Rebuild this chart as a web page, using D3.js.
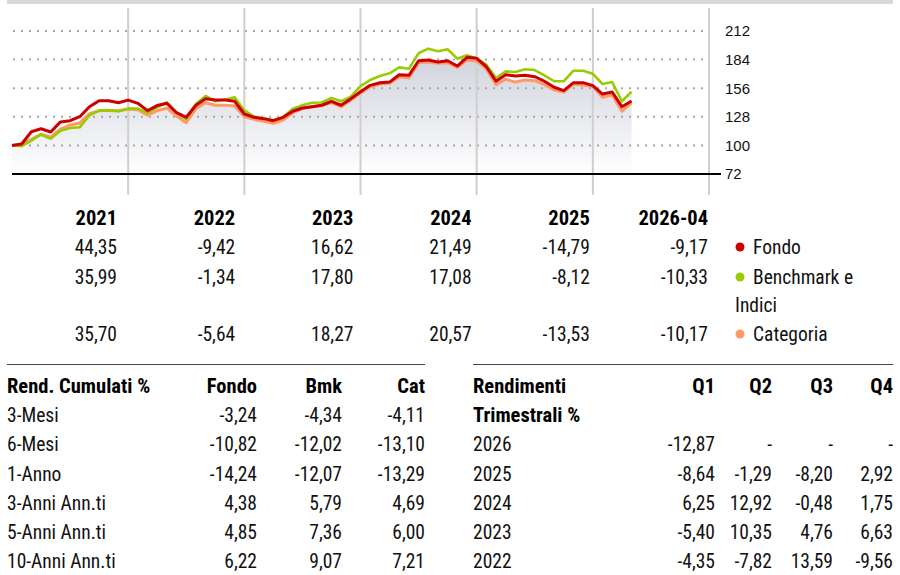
<!DOCTYPE html>
<html><head><meta charset="utf-8">
<script src="https://cdn.jsdelivr.net/npm/d3@7"></script>
<style>
body{margin:0;background:#fff}
svg{display:block}
.t{font-family:"Liberation Sans Narrow","Roboto Condensed","Arial Narrow","DejaVu Sans Condensed",sans-serif;font-size:19.5px;fill:#111}
.b{font-weight:bold;fill:#000;font-size:20.5px}
.ax{font-family:"Liberation Sans",Arial,sans-serif;font-size:15px;fill:#111}
</style></head><body>
<svg id="c" width="900" height="575"></svg>
<script>
// ---------- data ----------
const fondo = [100,101.4,113.4,116.3,113.1,123,124.2,128.1,137.9,143.8,143.8,141.8,144.35,
  141.2,134,139,141.2,132,127.5,139.3,145.7,144.5,144.5,143.2,130.75,
  127.5,126.2,124.2,127.5,133.4,136.6,137.9,139.3,143.2,139.3,145.7,152.5,
  158.8,161.4,162,169.2,168.6,182.9,183.6,181.6,182.9,177.7,186.2,185.3,
  177,162.8,169.2,167.9,168.6,167.3,162.8,156.9,153.6,161.4,161.4,158.5,
  150.3,152.3,137.9,143.4];
const benchmark = [100,99.3,104.6,110.5,106.6,114.4,117,117.7,129.5,134,134,133.4,135.99,
  136,132,137.3,142,132,125.5,140.5,148.4,143.2,145,147,134.2,
  128.1,126.2,124.9,127.5,136,139.3,141.8,142,146.4,143.2,147.7,158.1,
  164,168,170.6,176.4,175.1,190.2,194.7,192.1,194.1,184.9,188.2,185.1,
  179,166,172.5,171.9,174.5,173.8,168.6,162.8,162.8,173.1,173.1,170.1,
  160.1,162,143.2,152.5];
const categoria = [100,101,106,111,108,116,120,122,131,134,134.5,134,135.7,
  135,129.5,134,136.6,128.8,122.2,136,141.8,139.3,139.3,138.6,128.05,
  125.5,123.6,121.6,124.9,132,136,137.9,139.3,141.8,137.9,144.5,151.4,
  157.5,160.1,160.8,167.3,166,181,181.6,180.3,181,176.4,183.6,182.5,
  175.1,159.4,164.7,162,164,163.4,159.4,154.2,152.3,160.1,158.8,157.8,
  147.1,149.6,133.4,141.8];
const yTicks = [72,100,128,156,184,212];
const yearEnds = ["2021","2022","2023","2024","2025","2026"];

const annualHeaders = ["2021","2022","2023","2024","2025","2026-04"];
const annualFondo = ["44,35","-9,42","16,62","21,49","-14,79","-9,17"];
const annualBmk = ["35,99","-1,34","17,80","17,08","-8,12","-10,33"];
const annualCat = ["35,70","-5,64","18,27","20,57","-13,53","-10,17"];
const legendLabels = ["Fondo","Benchmark e","Categoria"];

const cumHeaders = ["Rend. Cumulati %","Fondo","Bmk","Cat"];
const cumRows = [
  ["3-Mesi","-3,24","-4,34","-4,11"],
  ["6-Mesi","-10,82","-12,02","-13,10"],
  ["1-Anno","-14,24","-12,07","-13,29"],
  ["3-Anni Ann.ti","4,38","5,79","4,69"],
  ["5-Anni Ann.ti","4,85","7,36","6,00"],
  ["10-Anni Ann.ti","6,22","9,07","7,21"]
];
const qHeaders = ["Q1","Q2","Q3","Q4"];
const qRows = [
  ["2026","-12,87","-","-","-"],
  ["2025","-8,64","-1,29","-8,20","2,92"],
  ["2024","6,25","12,92","-0,48","1,75"],
  ["2023","-5,40","10,35","4,76","6,63"],
  ["2022","-4,35","-7,82","13,59","-9,56"]
];

const colors = {fondo:"#cc0000", bmk:"#99cc00", cat:"#ff9966"};

// ---------- chart ----------
const svg = d3.select("#c");
svg.append("rect").attr("x",7).attr("y",0).attr("width",886).attr("height",4).attr("fill","#d9d9d9");

const x = d3.scaleLinear().domain([0,72]).range([12,709]);
const y = d3.scaleLinear().domain([72,212]).range([174,31]);

const defs = svg.append("defs");
const grad = defs.append("linearGradient").attr("id","g").attr("gradientUnits","userSpaceOnUse")
  .attr("x1",0).attr("x2",0).attr("y1",40).attr("y2",174);
grad.append("stop").attr("offset",0).attr("stop-color","#cacdd8");
grad.append("stop").attr("offset",1).attr("stop-color","#ffffff");

// area
svg.append("path").datum(categoria)
  .attr("d", d3.area().x((d,i)=>x(i)).y0(y(72)).y1(d=>y(d)))
  .attr("fill","url(#g)");

// horizontal dotted grid
svg.append("g").selectAll("line").data(yTicks.filter(v=>v>72)).join("line")
  .attr("x1",13).attr("x2",706).attr("y1",d=>y(d)).attr("y2",d=>y(d))
  .attr("stroke","#a6a6a6").attr("stroke-width",2).attr("stroke-dasharray","2,6");

// vertical year lines
svg.append("g").selectAll("line").data(yearEnds).join("line")
  .attr("x1",(d,i)=>x((i+1)*12)).attr("x2",(d,i)=>x((i+1)*12))
  .attr("y1",8).attr("y2",195).attr("stroke","#cfcfcf").attr("stroke-width",2);

// baseline
svg.append("line").attr("x1",12).attr("x2",721).attr("y1",y(72)).attr("y2",y(72))
  .attr("stroke","#000").attr("stroke-width",2.2);

// y axis labels
const yAxis = d3.axisRight(y).tickValues(yTicks).tickSize(0).tickPadding(0);
const gy = svg.append("g").attr("transform","translate(725,0)").call(yAxis);
gy.select(".domain").remove();
gy.selectAll("text").attr("class","ax").attr("font-family",null).attr("font-size",null).attr("fill",null);

// lines
const line = d3.line().x((d,i)=>x(i)).y(d=>y(d));
[[categoria,colors.cat,3],[benchmark,colors.bmk,2.6],[fondo,colors.fondo,3]].forEach(([s,c,w])=>{
  svg.append("path").datum(s).attr("d",line).attr("fill","none")
    .attr("stroke",c).attr("stroke-width",w).attr("stroke-linejoin","round");
});

// ---------- annual table ----------
const colX = d3.scaleLinear().domain([0,5]).range([117,708]);
const at = svg.append("g");
at.selectAll(".h").data(annualHeaders).join("text").attr("class","t b")
  .attr("x",(d,i)=>colX(i)).attr("y",225).attr("text-anchor","end").text(d=>d);
[[annualFondo,254],[annualBmk,284],[annualCat,341]].forEach(([arr,yy])=>{
  at.append("g").selectAll("text").data(arr).join("text").attr("class","t")
    .attr("x",(d,i)=>colX(i)).attr("y",yy).attr("text-anchor","end").text(d=>d);
});
// legend
const legY = [254,284,341];
const legC = [colors.fondo,colors.bmk,colors.cat];
legendLabels.forEach((l,i)=>{
  at.append("circle").attr("cx",740).attr("cy",legY[i]-7).attr("r",4.5).attr("fill",legC[i]);
  at.append("text").attr("class","t").attr("x",753).attr("y",legY[i]).text(l);
});
at.append("text").attr("class","t").attr("x",735).attr("y",312).text("Indici");

// ---------- cumulative table ----------
const rowY = d3.scaleLinear().domain([0,6]).range([393,568]);
const lt = svg.append("g");
lt.append("line").attr("x1",7).attr("x2",425).attr("y1",364.5).attr("y2",364.5).attr("stroke","#444").attr("stroke-width",1);
const cumX = [7,257,342,425];
cumHeaders.forEach((h,j)=>{
  lt.append("text").attr("class","t b").attr("x",cumX[j]).attr("y",rowY(0))
    .attr("text-anchor",j?"end":"start").text(h);
});
cumRows.forEach((r,i)=>{
  r.forEach((v,j)=>{
    lt.append("text").attr("class","t").attr("x",cumX[j]).attr("y",rowY(i+1))
      .attr("text-anchor",j?"end":"start").text(v);
  });
});

// ---------- quarterly table ----------
const rt = svg.append("g");
rt.append("line").attr("x1",473).attr("x2",893).attr("y1",364.5).attr("y2",364.5).attr("stroke","#444").attr("stroke-width",1);
const qX = [473,715,772,833,893];
rt.append("text").attr("class","t b").attr("x",qX[0]).attr("y",rowY(0)).text("Rendimenti");
rt.append("text").attr("class","t b").attr("x",qX[0]).attr("y",rowY(1)).text("Trimestrali %");
qHeaders.forEach((h,j)=>{
  rt.append("text").attr("class","t b").attr("x",qX[j+1]).attr("y",rowY(0)).attr("text-anchor","end").text(h);
});
qRows.forEach((r,i)=>{
  r.forEach((v,j)=>{
    rt.append("text").attr("class","t").attr("x",qX[j]).attr("y",rowY(i+2))
      .attr("text-anchor",j?"end":"start").text(v);
  });
});
</script></body></html>
